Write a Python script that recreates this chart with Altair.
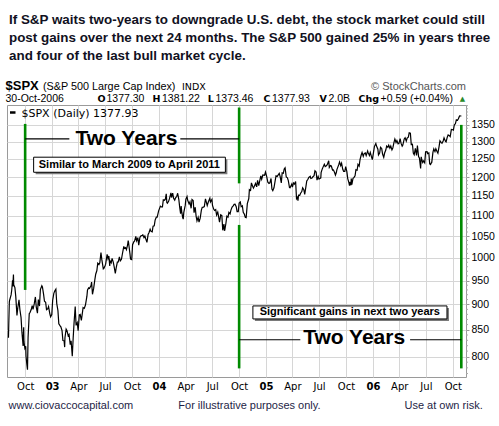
import altair as alt
import pandas as pd

# ---------------- data ----------------
dates = [
"2002-08-05","2002-08-06","2002-08-08","2002-08-09","2002-08-14","2002-08-16","2002-08-19","2002-08-20","2002-08-22","2002-08-23",
"2002-08-27","2002-08-30","2002-09-03","2002-09-06","2002-09-10","2002-09-13","2002-09-17","2002-09-20","2002-09-24","2002-09-26",
"2002-09-27","2002-09-30","2002-10-03","2002-10-04","2002-10-07","2002-10-09","2002-10-11","2002-10-15","2002-10-18","2002-10-22",
"2002-10-25","2002-10-28","2002-11-01","2002-11-05","2002-11-08","2002-11-12","2002-11-15","2002-11-19","2002-11-22","2002-11-27",
"2002-11-29","2002-12-03","2002-12-06","2002-12-10","2002-12-13","2002-12-17","2002-12-20","2002-12-24","2002-12-27","2002-12-31",
"2003-01-03","2003-01-07","2003-01-10","2003-01-14","2003-01-17","2003-01-21","2003-01-24","2003-01-28","2003-01-31","2003-02-04",
"2003-02-07","2003-02-11","2003-02-13","2003-02-14","2003-02-18","2003-02-21","2003-02-25","2003-02-28","2003-03-04","2003-03-07",
"2003-03-11","2003-03-14","2003-03-17","2003-03-21","2003-03-24","2003-03-28","2003-03-31","2003-04-04","2003-04-07","2003-04-11",
"2003-04-17","2003-04-21","2003-04-25","2003-04-30","2003-05-02","2003-05-06","2003-05-09","2003-05-14","2003-05-16","2003-05-19",
"2003-05-23","2003-05-27","2003-05-30","2003-06-03","2003-06-06","2003-06-10","2003-06-13","2003-06-17","2003-06-20","2003-06-25",
"2003-06-27","2003-07-01","2003-07-03","2003-07-08","2003-07-11","2003-07-14","2003-07-17","2003-07-18","2003-07-22","2003-07-25",
"2003-07-29","2003-08-01","2003-08-05","2003-08-08","2003-08-12","2003-08-15","2003-08-19","2003-08-22","2003-08-26","2003-08-29",
"2003-09-03","2003-09-05","2003-09-09","2003-09-12","2003-09-16","2003-09-18","2003-09-19","2003-09-24","2003-09-26","2003-09-30",
"2003-10-03","2003-10-07","2003-10-10","2003-10-14","2003-10-17","2003-10-21","2003-10-24","2003-10-28","2003-10-31","2003-11-05",
"2003-11-07","2003-11-11","2003-11-14","2003-11-17","2003-11-21","2003-11-25","2003-11-28","2003-12-02","2003-12-05","2003-12-09",
"2003-12-12","2003-12-16","2003-12-19","2003-12-23","2003-12-26","2003-12-31","2004-01-06","2004-01-09","2004-01-13","2004-01-16",
"2004-01-20","2004-01-23","2004-01-26","2004-01-28","2004-01-30","2004-02-03","2004-02-06","2004-02-11","2004-02-13","2004-02-17",
"2004-02-20","2004-02-24","2004-02-27","2004-03-02","2004-03-05","2004-03-09","2004-03-12","2004-03-15","2004-03-17","2004-03-19",
"2004-03-22","2004-03-24","2004-03-26","2004-03-31","2004-04-02","2004-04-06","2004-04-08","2004-04-13","2004-04-16","2004-04-20",
"2004-04-23","2004-04-27","2004-04-30","2004-05-04","2004-05-07","2004-05-10","2004-05-14","2004-05-17","2004-05-21","2004-05-25",
"2004-05-28","2004-06-01","2004-06-04","2004-06-08","2004-06-10","2004-06-14","2004-06-18","2004-06-23","2004-06-25","2004-06-30",
"2004-07-02","2004-07-06","2004-07-09","2004-07-13","2004-07-16","2004-07-20","2004-07-23","2004-07-26","2004-07-30","2004-08-03",
"2004-08-06","2004-08-10","2004-08-12","2004-08-13","2004-08-17","2004-08-20","2004-08-24","2004-08-27","2004-08-31","2004-09-03",
"2004-09-07","2004-09-10","2004-09-14","2004-09-17","2004-09-21","2004-09-24","2004-09-28","2004-10-01","2004-10-05","2004-10-08",
"2004-10-12","2004-10-15","2004-10-19","2004-10-22","2004-10-25","2004-10-29","2004-11-03","2004-11-05","2004-11-09","2004-11-12",
"2004-11-16","2004-11-19","2004-11-23","2004-11-26","2004-11-30","2004-12-03","2004-12-07","2004-12-10","2004-12-14","2004-12-17",
"2004-12-21","2004-12-27","2004-12-30","2005-01-03","2005-01-07","2005-01-11","2005-01-14","2005-01-18","2005-01-21","2005-01-24",
"2005-01-28","2005-02-01","2005-02-04","2005-02-08","2005-02-11","2005-02-15","2005-02-18","2005-02-22","2005-02-25","2005-03-01",
"2005-03-04","2005-03-07","2005-03-11","2005-03-15","2005-03-18","2005-03-22","2005-03-24","2005-03-30","2005-04-01","2005-04-05",
"2005-04-08","2005-04-12","2005-04-15","2005-04-18","2005-04-20","2005-04-22","2005-04-26","2005-04-29","2005-05-03","2005-05-06",
"2005-05-10","2005-05-13","2005-05-17","2005-05-20","2005-05-24","2005-05-27","2005-06-01","2005-06-03","2005-06-07","2005-06-10",
"2005-06-14","2005-06-17","2005-06-21","2005-06-24","2005-06-28","2005-07-01","2005-07-07","2005-07-08","2005-07-12","2005-07-15",
"2005-07-19","2005-07-22","2005-07-26","2005-07-29","2005-08-03","2005-08-05","2005-08-09","2005-08-12","2005-08-16","2005-08-19",
"2005-08-23","2005-08-26","2005-08-29","2005-08-31","2005-09-06","2005-09-09","2005-09-13","2005-09-16","2005-09-20","2005-09-23",
"2005-09-27","2005-09-30","2005-10-04","2005-10-07","2005-10-11","2005-10-13","2005-10-14","2005-10-18","2005-10-19","2005-10-21",
"2005-10-25","2005-10-28","2005-11-01","2005-11-04","2005-11-08","2005-11-11","2005-11-15","2005-11-18","2005-11-22","2005-11-25",
"2005-11-29","2005-12-02","2005-12-06","2005-12-09","2005-12-14","2005-12-16","2005-12-20","2005-12-23","2005-12-27","2005-12-30",
"2006-01-04","2006-01-06","2006-01-11","2006-01-13","2006-01-18","2006-01-20","2006-01-24","2006-01-27","2006-01-31","2006-02-03",
"2006-02-07","2006-02-10","2006-02-14","2006-02-17","2006-02-21","2006-02-24","2006-02-28","2006-03-03","2006-03-07","2006-03-10",
"2006-03-14","2006-03-17","2006-03-21","2006-03-24","2006-03-28","2006-03-31","2006-04-04","2006-04-07","2006-04-11","2006-04-13",
"2006-04-18","2006-04-21","2006-04-25","2006-04-28","2006-05-02","2006-05-05","2006-05-09","2006-05-12","2006-05-16","2006-05-19",
"2006-05-22","2006-05-26","2006-05-30","2006-06-02","2006-06-06","2006-06-09","2006-06-13","2006-06-15","2006-06-16","2006-06-20",
"2006-06-23","2006-06-27","2006-06-30","2006-07-05","2006-07-07","2006-07-11","2006-07-14","2006-07-17","2006-07-18","2006-07-21",
"2006-07-25","2006-07-28","2006-08-01","2006-08-04","2006-08-08","2006-08-11","2006-08-15","2006-08-18","2006-08-22","2006-08-25",
"2006-08-29","2006-09-01","2006-09-06","2006-09-08","2006-09-12","2006-09-15","2006-09-19","2006-09-22","2006-09-26","2006-09-29",
"2006-10-03","2006-10-06","2006-10-10","2006-10-13","2006-10-17","2006-10-20","2006-10-24","2006-10-27","2006-10-30",
]
closes = [
834.6,859.6,905.5,908.6,919.6,928.8,950.7,937.4,962.7,940.9,
934.8,916.1,878.0,893.9,909.6,889.8,873.5,845.4,819.3,854.9,
827.4,815.3,818.9,800.6,785.3,776.8,835.3,881.3,884.4,890.2,
897.7,890.2,901.0,915.4,894.7,882.5,909.8,896.7,930.6,938.9,
936.3,920.8,906.6,904.5,889.5,891.1,895.8,882.2,875.4,879.8,
908.6,922.9,927.6,931.7,901.8,887.6,861.4,858.0,855.7,848.2,
829.7,829.2,817.4,834.9,851.2,848.2,838.6,841.2,822.0,828.9,
800.7,833.3,862.8,895.8,858.5,863.5,848.2,878.9,879.9,868.3,
893.6,892.0,898.8,916.9,930.1,934.4,933.4,939.3,946.7,920.8,
933.2,951.5,963.6,971.6,987.8,984.8,988.6,1011.7,995.7,975.3,
976.2,982.3,985.7,1007.8,998.1,1003.9,981.7,993.3,988.6,998.7,
990.3,980.2,965.5,977.6,990.4,990.7,1002.3,993.1,996.7,1008.0,
1026.3,1021.4,1023.2,1018.6,1029.3,1039.6,1036.3,1009.4,996.9,996.0,
1029.9,1036.5,1038.7,1049.5,1039.3,1046.6,1028.9,1046.8,1050.7,1051.8,
1053.2,1046.6,1050.4,1043.6,1035.3,1053.9,1058.2,1066.6,1061.5,1060.2,
1074.1,1075.1,1088.7,1096.0,1095.9,1111.9,1123.7,1121.9,1121.8,1139.8,
1138.8,1141.6,1155.4,1133.1,1131.1,1136.0,1142.8,1157.8,1145.8,1157.0,
1144.1,1139.1,1144.9,1149.1,1156.9,1140.6,1120.6,1104.5,1123.8,1109.8,
1095.4,1091.3,1108.1,1126.2,1141.8,1148.2,1139.3,1129.4,1134.6,1118.2,
1140.6,1138.1,1107.3,1121.0,1098.7,1087.1,1095.7,1084.1,1093.6,1113.8,
1120.7,1121.2,1122.5,1142.2,1136.5,1125.3,1135.0,1144.1,1134.4,1140.8,
1125.4,1116.2,1112.8,1115.1,1101.4,1108.7,1096.8,1084.1,1101.7,1099.7,
1064.0,1079.0,1063.2,1064.8,1081.7,1098.6,1096.2,1107.8,1104.2,1113.6,
1121.3,1123.9,1128.3,1128.6,1122.2,1110.1,1110.1,1131.5,1134.5,1122.1,
1124.4,1108.2,1103.2,1095.7,1094.8,1130.2,1143.2,1166.2,1164.1,1184.2,
1175.4,1170.3,1177.2,1182.7,1173.8,1191.2,1177.1,1188.0,1203.4,1194.2,
1205.5,1204.9,1213.6,1202.1,1186.2,1183.0,1184.5,1196.0,1167.9,1163.8,
1171.4,1189.4,1203.0,1201.7,1205.3,1210.1,1201.6,1184.2,1211.4,1210.4,
1222.1,1225.3,1200.1,1197.8,1190.2,1171.7,1171.4,1181.4,1172.9,1184.1,
1181.2,1187.8,1142.6,1146.0,1137.5,1152.1,1151.7,1156.9,1161.2,1171.4,
1166.2,1154.1,1173.8,1189.3,1194.1,1198.8,1202.2,1196.0,1197.3,1200.9,
1203.9,1217.0,1213.6,1191.6,1201.6,1194.4,1197.9,1211.9,1222.2,1227.9,
1235.2,1229.0,1231.2,1234.2,1245.0,1226.4,1231.4,1230.4,1219.3,1219.7,
1212.3,1205.1,1212.3,1220.3,1233.4,1241.5,1231.2,1237.9,1221.3,1215.3,
1215.6,1228.8,1214.5,1195.9,1184.9,1176.8,1186.6,1178.1,1195.8,1179.6,
1196.5,1198.4,1203.6,1220.1,1218.6,1234.7,1229.9,1248.3,1261.2,1268.3,
1257.5,1265.1,1267.0,1259.4,1272.7,1267.3,1259.9,1268.7,1256.5,1248.3,
1273.5,1285.5,1294.2,1287.6,1277.9,1261.5,1266.9,1283.7,1280.1,1264.0,
1254.8,1266.9,1275.5,1287.2,1283.0,1289.4,1280.7,1287.2,1275.9,1281.4,
1297.5,1307.3,1297.2,1302.9,1293.2,1294.9,1309.0,1295.5,1286.6,1289.1,
1307.7,1311.3,1301.7,1310.6,1313.2,1325.8,1324.7,1291.2,1292.1,1267.0,
1262.0,1280.2,1259.9,1288.2,1256.6,1252.3,1223.7,1256.2,1251.5,1240.1,
1244.5,1239.2,1270.2,1270.9,1265.5,1267.3,1236.2,1234.5,1236.9,1240.3,
1268.9,1278.6,1270.9,1279.4,1271.5,1266.7,1285.6,1302.3,1298.0,1295.1,
1301.8,1311.0,1300.3,1298.9,1313.0,1319.9,1317.6,1314.8,1336.3,1335.9,
1334.1,1349.6,1354.0,1365.6,1364.1,1368.6,1377.4,1377.3,1377.9,
]

y_ticks = [800, 850, 900, 950, 1000, 1050, 1100, 1150, 1200, 1250, 1300, 1350]
minor_ticks = [770, 780, 790, 810, 820, 830, 840, 860, 870, 880, 890, 910, 920, 930, 940,
               960, 970, 980, 990, 1010, 1020, 1030, 1040, 1060, 1070, 1080, 1090,
               1110, 1120, 1130, 1140, 1160, 1170, 1180, 1190, 1210, 1220, 1230, 1240,
               1260, 1270, 1280, 1290, 1310, 1320, 1330, 1340, 1360, 1370, 1380, 1390, 1400, 1410]

# annotation data (data coordinates)
green_dates = ["2002-10-01", "2004-10-01", "2004-10-01", "2006-10-30"]
green_top = [1353, 1404, 1077, 1350]
green_bottom = [930, 1183, 779, 779]

span_start = ["2002-10-01", "2004-03-14", "2004-10-01", "2006-05-08"]
span_end = ["2003-03-01", "2004-10-01", "2005-04-28", "2006-10-30"]
span_level = [1308, 1308, 831, 831]

two_years_dates = ["2003-09-12", "2005-10-29"]
two_years_level = [1308, 834]
two_years_text = ["Two Years", "Two Years"]

box_start = ["2002-10-30", "2004-11-17"]
box_end = ["2004-08-15", "2006-09-11"]
box_top = [1255, 897]
box_bottom = [1213, 871]
box_mid_date = ["2003-09-22", "2005-10-14"]
box_mid_level = [1234, 884]
box_text = ["Similar to March 2009 to April 2011", "Significant gains in next two years"]

title_lines = [
    "If S&P waits two-years to downgrade U.S. debt, the stock market could still",
    "post gains over the next 24 months.  The S&P 500 gained 25% in years three",
    "and four of the last bull market cycle.",
]

# ---------------- frames ----------------
price = pd.DataFrame({"date": pd.to_datetime(dates), "close": closes})
green = pd.DataFrame({"date": pd.to_datetime(green_dates), "close": green_top, "bot": green_bottom})
spans = pd.DataFrame({"date": pd.to_datetime(span_start), "d2": pd.to_datetime(span_end), "close": span_level})
tys = pd.DataFrame({"date": pd.to_datetime(two_years_dates), "close": two_years_level, "t": two_years_text})
boxes = pd.DataFrame({"date": pd.to_datetime(box_start), "d2": pd.to_datetime(box_end),
                      "close": box_top, "v2": box_bottom})
box_labels = pd.DataFrame({"date": pd.to_datetime(box_mid_date), "close": box_mid_level, "t": box_text})
minor = pd.DataFrame({"close": minor_ticks})

W, H = 459, 272
xs = alt.Scale(domain=[alt.DateTime(year=2002, month=7, date=31),
                       alt.DateTime(year=2006, month=11, date=15)])
ys = alt.Scale(type="log", domain=[764, 1412], nice=False, zero=False)

quarters = [alt.DateTime(year=y, month=m, date=1)
            for y in range(2002, 2007) for m in (1, 4, 7, 10)
            if (y, m) >= (2002, 10) and (y, m) <= (2006, 10)]

x_axis = alt.Axis(
    values=quarters, title=None, grid=True, gridColor="#d6d6d6", domain=False,
    tickSize=0, labelPadding=4, labelFont="DejaVu Sans", labelFontSize=10, labelColor="#000",
    labelExpr="month(datum.value)==0 ? timeFormat(datum.value, '%y') : timeFormat(datum.value, '%b')",
    labelFontWeight={"condition": {"test": "month(datum.value)==0", "value": "bold"}, "value": "normal"},
    labelOverlap=False, labelFlush=False,
)
y_axis = alt.Axis(
    orient="right", values=y_ticks, title=None, grid=True, gridColor="#d6d6d6", domain=False,
    tickSize=3, tickColor="#999", labelPadding=2, labelFont="Liberation Sans", labelFontSize=10.5,
    labelColor="#000", format="d", labelOverlap=False,
)

X = alt.X("date:T", scale=xs, axis=x_axis)
Y = alt.Y("close:Q", scale=ys, axis=y_axis)

line = alt.Chart(price).mark_line(color="black", strokeWidth=1.2).encode(x=X, y=Y)

minor_rules = alt.Chart(minor).mark_rule(color="#aaaaaa", strokeWidth=1).encode(
    x=alt.value(W), x2=alt.value(W + 2), y=Y)

green_rules = alt.Chart(green).mark_rule(color="#008a00", strokeWidth=2.6).encode(
    x=X, y=Y, y2="bot:Q")

black_rules = alt.Chart(spans).mark_rule(color="black", strokeWidth=1.1).encode(
    x=X, x2="d2:T", y=Y)

two_years = alt.Chart(tys).mark_text(font="Liberation Sans", fontSize=21, fontWeight="bold",
                                     color="black", baseline="middle").encode(x=X, y=Y, text="t:N")

box_shadow = alt.Chart(boxes).mark_rect(fill="#7a7a7a", xOffset=2, x2Offset=2, yOffset=2, y2Offset=2).encode(
    x=X, x2="d2:T", y=Y, y2="v2:Q")
box_rect = alt.Chart(boxes).mark_rect(fill="white", stroke="black", strokeWidth=1).encode(
    x=X, x2="d2:T", y=Y, y2="v2:Q")
box_label = alt.Chart(box_labels).mark_text(font="Liberation Sans", fontSize=11, fontWeight="bold",
                                            color="black", baseline="middle").encode(x=X, y=Y, text="t:N")


def label(text, x, y, size=11, weight="normal", align="left", color="#000",
          font="Liberation Sans", baseline="alphabetic"):
    return alt.Chart(pd.DataFrame({"t": [text]})).mark_text(
        font=font, fontSize=size, fontWeight=weight, align=align, color=color, baseline=baseline
    ).encode(x=alt.value(x), y=alt.value(y), text="t:N")


texts = []
# title
for i, ln in enumerate(title_lines):
    texts.append(label(ln, 2, -81 + 18 * i, size=13.4, weight="bold", color="#111122"))
# header row 1
texts.append(label("$SPX", -1.5, -15, size=13, weight="bold"))
texts.append(label("(S&P 500 Large Cap Index)", 36, -15, size=10.8))
texts.append(label("INDX", 175, -15, size=9.5, font="DejaVu Sans"))
texts.append(label("© StockCharts.com", 459, -15, size=11, align="right", color="#555"))
# header row 2
texts.append(label("30-Oct-2006", -1.5, -3.5, size=10.5))
for s, xv in [("O", 90.6), ("H", 145.6), ("L", 200.8), ("C", 256.6), ("V", 312.4), ("Chg", 351.5)]:
    texts.append(label(s, xv, -3.5, size=9.5, weight="bold", font="DejaVu Sans"))
for s, xv in [("1377.30", 99.5), ("1381.22", 155), ("1373.46", 208.5), ("1377.93", 265),
              ("2.0B", 321.5), ("+0.59 (+0.04%)", 373.5)]:
    texts.append(label(s, xv, -3.5, size=10.5))
texts.append(label("▲", 455.5, -4, size=7, align="center", color="#2a8a2a", font="DejaVu Sans"))
# in-plot legend
legend_dash = alt.Chart(pd.DataFrame({"t": [0]})).mark_rule(color="black", strokeWidth=2.5).encode(
    x=alt.value(3), x2=alt.value(8.5), y=alt.value(7.5))
texts.append(legend_dash)
texts.append(label("$SPX (Daily) 1377.93", 14.5, 11.5, size=11, font="DejaVu Sans"))
# footer
texts.append(label("www.ciovaccocapital.com", 1.5, 303.5, size=11, color="#1e1e46"))
texts.append(label("For illustrative purposes only.", 171.3, 303.5, size=11, color="#1e1e46"))
texts.append(label("Use at own risk.", 475.7, 303.5, size=11, align="right", color="#1e1e46"))

chart = alt.layer(
    line, minor_rules, green_rules, black_rules, two_years, box_shadow, box_rect, box_label, *texts
).properties(
    width=W, height=H,
    padding={"left": 7, "top": 105, "right": 33, "bottom": 49},
    autosize=alt.AutoSizeParams(type="none"),
    background="white",
).configure_view(stroke="#9a9a9a", strokeWidth=1)

chart.save("out.html", embed_options={"renderer": "svg", "actions": False})
